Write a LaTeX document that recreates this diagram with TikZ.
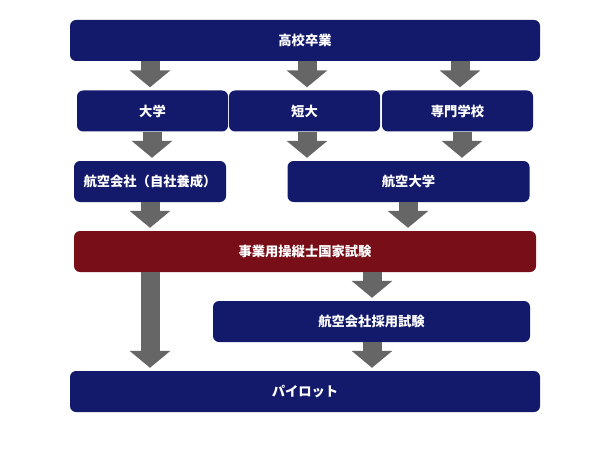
\documentclass[tikz,border=0pt]{standalone}
\usepackage{fontspec}
\usepackage{tikz}
\usetikzlibrary{arrows.meta}
\newfontfamily\jp{Noto Sans CJK JP}
\definecolor{mnavy}{HTML}{131A6C}
\definecolor{mred}{HTML}{780E17}
\definecolor{mgray}{HTML}{666666}
\tikzset{box/.style = {fill=mnavy, rounded corners=6pt, text=white,
                       minimum height=41pt, inner sep=0pt,
                       font=\jp\bfseries\fontsize{13.3}{14}\selectfont},
         flow/.style = {mgray, line width=19pt, shorten >=3pt,
                        -{Triangle[width=40pt, length=17pt]}}}

\begin{document}
\begin{tikzpicture}[x=1pt, y=-1pt]
    \fill [white] (0, 0) rectangle (609, 457);
    \node [box, minimum width=470pt] (school) at (305, 40.5) {高校卒業};
    \node [box, minimum width=151pt] (univ) at (152.5, 111) {大学};
    \node [box, minimum width=151pt] (junior) at (304.5, 111) {短大};
    \node [box, minimum width=151pt] (vocational) at (457.5, 111) {専門学校};
    \node [box, minimum width=152pt] (airline) at (150, 181.5) {航空会社（自社養成）};
    \node [box, minimum width=242pt] (aviation) at (408.5, 181.5) {航空大学};
    \node [box, minimum width=462pt, fill=mred] (license) at (305, 251.5) {事業用操縦士国家試験};
    \node [box, minimum width=317pt] (hiring) at (371.5, 321.5) {航空会社採用試験};
    \node [box, minimum width=470pt] (pilot) at (305, 391.5) {パイロット};
    \foreach \from/\to/\x in {school/univ/150, school/junior/307, school/vocational/460,
                              univ/airline/152, junior/aviation/307, vocational/aviation/462,
                              airline/license/150, aviation/license/408,
                              license/pilot/150, license/hiring/372, hiring/pilot/372} {
      \draw [flow] (\x,0 |- \from.south) -- (\x,0 |- \to.north);
    }
  \end{tikzpicture}
\end{document}
